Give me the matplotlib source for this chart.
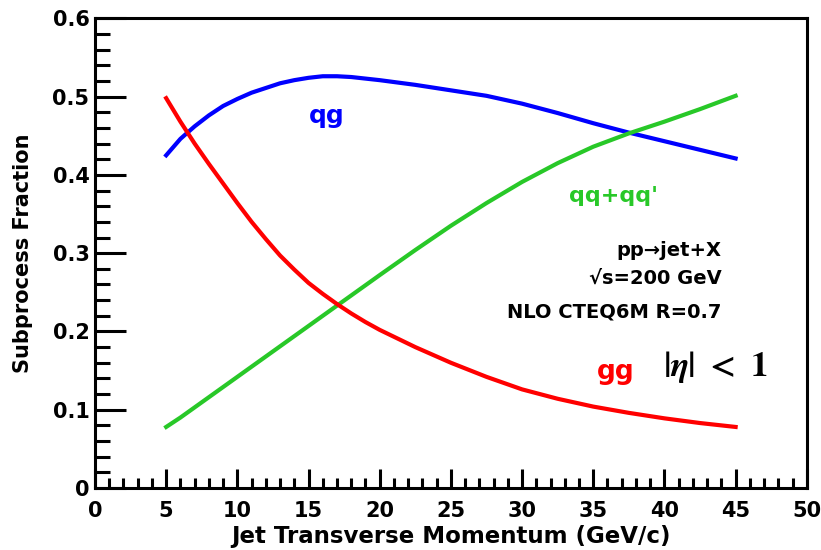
import matplotlib
matplotlib.use("Agg")
import matplotlib.pyplot as plt
from matplotlib.ticker import MultipleLocator

plt.rcParams['font.family'] = ['DejaVu Sans']
plt.rcParams['font.weight'] = 'bold'
plt.rcParams['mathtext.fontset'] = 'custom'
plt.rcParams['mathtext.rm'] = 'STIXGeneral:bold'
plt.rcParams['mathtext.it'] = 'STIXGeneral:italic:bold'

# jet pT (GeV/c)
pt = [5, 6, 7, 8, 9, 10, 11, 12, 13, 14, 15, 16, 17, 18, 19, 20,
      22.5, 25, 27.5, 30, 32.5, 35, 37.5, 40, 42.5, 45]

# subprocess fractions
frac_qg = [0.425, 0.446, 0.462, 0.476, 0.488, 0.497, 0.505, 0.511, 0.517, 0.521,
           0.524, 0.526, 0.526, 0.525, 0.523, 0.521,
           0.515, 0.508, 0.501, 0.491, 0.479, 0.466, 0.454, 0.443, 0.432, 0.421]
frac_qq = [0.078, 0.090, 0.103, 0.116, 0.129, 0.142, 0.155, 0.168, 0.181, 0.194,
           0.207, 0.220, 0.233, 0.246, 0.259, 0.272,
           0.304, 0.335, 0.364, 0.391, 0.415, 0.436, 0.453, 0.468, 0.484, 0.501]
frac_gg = [0.498, 0.468, 0.440, 0.414, 0.389, 0.364, 0.340, 0.318, 0.297, 0.279,
           0.262, 0.248, 0.235, 0.223, 0.212, 0.202,
           0.180, 0.160, 0.142, 0.126, 0.114, 0.104, 0.096, 0.089, 0.083, 0.078]

fig = plt.figure(figsize=(8.21, 5.5), dpi=100)
ax = fig.add_axes([0.1157, 0.1127, 0.867, 0.854])

ax.plot(pt, frac_qg, color='#0000ff', lw=3)
ax.plot(pt, frac_qq, color='#28c828', lw=3)
ax.plot(pt, frac_gg, color='#ff0000', lw=3)

ax.set_xlim(0, 50)
ax.set_ylim(0, 0.6)
ax.xaxis.set_major_locator(MultipleLocator(5))
ax.xaxis.set_minor_locator(MultipleLocator(1))
ax.yaxis.set_major_locator(MultipleLocator(0.1))
ax.yaxis.set_minor_locator(MultipleLocator(0.02))
ax.set_yticks([0, 0.1, 0.2, 0.3, 0.4, 0.5, 0.6])
ax.set_yticklabels(['0', '0.1', '0.2', '0.3', '0.4', '0.5', '0.6'])

ax.tick_params(which='both', direction='in', top=False, right=False, width=2.2, labelsize=15)
ax.tick_params(axis='x', which='major', length=14, pad=9)
ax.tick_params(axis='x', which='minor', length=7)
ax.tick_params(axis='y', which='major', length=22, pad=4)
ax.tick_params(axis='y', which='minor', length=11)
for s in ax.spines.values():
    s.set_linewidth(2.2)

ax.set_xlabel('Jet Transverse Momentum (GeV/c)', fontsize=16.5, fontweight='bold', labelpad=3)
ax.set_ylabel('Subprocess Fraction', fontsize=15, fontweight='bold', labelpad=14)

ax.text(16.3, 0.475, 'qg', color='#0000ff', fontsize=18, ha='center', va='center')
ax.text(36.4, 0.373, "qq+qq'", color='#28c828', fontsize=16, ha='center', va='center')
ax.text(36.6, 0.148, 'gg', color='#ff0000', fontsize=19, ha='center', va='center')
ax.text(44.0, 0.303, 'pp\u2192jet+X', fontsize=14, ha='right', va='center')
ax.text(44.0, 0.268, '\u221as=200 GeV', fontsize=14, ha='right', va='center')
ax.text(44.0, 0.225, 'NLO CTEQ6M R=0.7', fontsize=14, ha='right', va='center')
ax.text(43.6, 0.155, r'$|\eta|\ <\ 1$', fontsize=25, ha='center', va='center')

fig.savefig('out.png', dpi=100)
